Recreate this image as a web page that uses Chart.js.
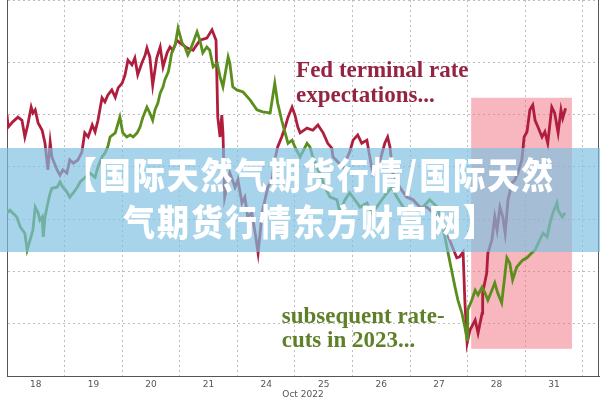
<!DOCTYPE html>
<html>
<head>
<meta charset="utf-8">
<script src="https://cdn.jsdelivr.net/npm/chart.js@4.4.0/dist/chart.umd.min.js"></script>
<style>
  html, body { margin: 0; padding: 0; background: #fff; }
  #wrap { width: 600px; height: 400px; }
</style>
</head>
<body>
<div id="wrap"><canvas id="chart"></canvas></div>
<script>
// Trading days on the axis (Oct 2022)
const dayLabels = ['18', '19', '20', '21', '24', '25', '26', '27', '28', '31'];

// Fed terminal rate expectations (time in trading days, level in grid units)
const fedTime = [
    0.00, 0.02, 0.10, 0.19, 0.26, 0.31, 0.36, 0.42, 0.45, 0.49,
    0.54, 0.61, 0.66, 0.71, 0.75, 0.78, 0.80, 0.87, 0.92, 0.97,
    1.04, 1.09, 1.15, 1.23, 1.30, 1.35, 1.41, 1.48, 1.53, 1.58,
    1.65, 1.70, 1.75, 1.82, 1.88, 1.93, 2.00, 2.05, 2.10, 2.17,
    2.22, 2.27, 2.34, 2.40, 2.43, 2.48, 2.53, 2.60, 2.66, 2.71,
    2.78, 2.83, 2.88, 2.95, 3.00, 3.13, 3.23, 3.35, 3.47, 3.56,
    3.63, 3.66, 3.70, 3.73, 3.75, 3.78, 3.87, 3.96, 4.01, 4.08,
    4.13, 4.18, 4.25, 4.31, 4.36, 4.43, 4.48, 4.53, 4.60, 4.65,
    4.70, 4.77, 4.83, 4.88, 4.95, 5.00, 5.05, 5.09, 5.21, 5.31,
    5.40, 5.49, 5.57, 5.64, 5.66, 5.83, 5.95, 6.01, 6.09, 6.16,
    6.25, 6.30, 6.35, 6.48, 6.56, 6.61, 6.65, 6.70, 6.82, 6.94,
    7.05, 7.17, 7.29, 7.40, 7.52, 7.64, 7.81, 7.86, 7.92, 7.95,
    7.99, 8.04, 8.13, 8.18, 8.25, 8.26, 8.33, 8.35, 8.42, 8.47,
    8.51, 8.56, 8.61, 8.65, 8.70, 8.77, 8.82, 8.87, 8.94, 8.98,
    9.03, 9.08, 9.13, 9.17, 9.22, 9.29, 9.34, 9.39, 9.46, 9.51,
    9.57, 9.62, 9.65, 9.70
];
const fedLevel = [
    4.99, 4.76, 4.86, 4.95, 4.89, 4.57, 4.80, 5.14, 5.03, 5.09,
    4.84, 4.70, 4.45, 3.94, 4.47, 4.19, 4.13, 3.94, 3.84, 3.94,
    3.88, 4.13, 4.07, 4.13, 4.28, 4.65, 4.57, 4.80, 4.67, 4.89,
    5.32, 5.24, 5.37, 5.47, 5.33, 5.51, 5.60, 5.76, 6.04, 5.95,
    6.08, 5.76, 5.98, 6.14, 6.27, 6.10, 5.56, 6.08, 6.29, 5.91,
    6.18, 6.29, 6.23, 6.42, 6.37, 6.27, 6.23, 6.42, 6.46, 6.62,
    6.42, 4.95, 4.57, 4.99, 4.65, 3.42, 3.88, 3.61, 3.75, 3.31,
    3.42, 3.04, 3.12, 2.73, 2.35, 3.12, 3.37, 3.61, 3.75, 4.13,
    4.38, 4.57, 4.76, 4.95, 5.14, 4.99, 4.76, 4.65, 4.74, 4.70,
    4.80, 4.65, 4.45, 4.36, 4.19, 4.00, 4.28, 4.51, 4.61, 4.45,
    4.51, 4.19, 3.88, 4.13, 4.45, 4.57, 4.38, 3.88, 3.61, 3.42,
    3.37, 3.23, 3.23, 3.12, 2.98, 2.73, 2.26, 2.28, 2.37, 1.45,
    0.63, 0.88, 1.07, 0.82, 1.20, 1.59, 1.97, 2.35, 2.60, 3.04,
    2.79, 3.23, 3.04, 2.73, 3.37, 3.69, 3.75, 3.88, 4.13, 4.57,
    4.67, 5.09, 5.18, 4.89, 4.76, 4.57, 4.67, 4.45, 5.14, 5.03,
    4.65, 5.09, 4.93, 5.12
];

// Subsequent rate-cuts priced for 2023
const cutsTime = [
    0.00, 0.05, 0.17, 0.23, 0.31, 0.35, 0.40, 0.45, 0.49, 0.54,
    0.57, 0.61, 0.63, 0.66, 0.71, 0.75, 0.78, 0.87, 0.92, 0.97,
    1.04, 1.09, 1.15, 1.22, 1.27, 1.35, 1.44, 1.53, 1.58, 1.65,
    1.70, 1.75, 1.79, 1.88, 1.96, 2.01, 2.08, 2.14, 2.19, 2.26,
    2.31, 2.36, 2.43, 2.48, 2.53, 2.57, 2.62, 2.66, 2.71, 2.74,
    2.80, 2.83, 2.86, 2.92, 2.97, 3.04, 3.09, 3.14, 3.18, 3.23,
    3.30, 3.35, 3.40, 3.47, 3.52, 3.58, 3.65, 3.70, 3.75, 3.84,
    3.87, 3.92, 3.99, 4.10, 4.22, 4.34, 4.44, 4.57, 4.65, 4.70,
    4.77, 4.83, 4.88, 4.95, 5.00, 5.09, 5.21, 5.26, 5.31, 5.43,
    5.52, 5.61, 5.73, 5.78, 5.87, 5.95, 6.04, 6.13, 6.25, 6.34,
    6.42, 6.51, 6.60, 6.68, 6.77, 6.88, 7.00, 7.12, 7.22, 7.34,
    7.47, 7.57, 7.66, 7.73, 7.78, 7.83, 7.90, 7.95, 7.99, 8.00,
    8.07, 8.13, 8.18, 8.25, 8.30, 8.35, 8.42, 8.47, 8.52, 8.59,
    8.65, 8.68, 8.73, 8.78, 8.85, 8.91, 8.96, 9.03, 9.11, 9.17,
    9.25, 9.31, 9.38, 9.43, 9.48, 9.55, 9.57, 9.64, 9.69
];
const cutsLevel = [
    3.12, 3.17, 3.04, 2.85, 2.73, 2.41, 2.60, 2.79, 3.23, 3.12,
    2.98, 3.04, 2.66, 3.04, 3.31, 3.50, 3.59, 3.61, 3.71, 3.61,
    3.52, 3.42, 3.50, 3.61, 3.71, 3.79, 3.88, 3.80, 4.00, 4.19,
    4.26, 4.38, 4.57, 4.65, 4.95, 4.65, 4.57, 4.61, 4.57, 4.65,
    4.76, 4.95, 5.14, 5.03, 4.89, 5.09, 5.22, 5.41, 5.53, 5.66,
    5.81, 5.98, 6.18, 6.33, 6.65, 6.37, 6.29, 6.14, 6.23, 6.37,
    6.58, 6.42, 6.18, 6.29, 6.23, 5.91, 5.98, 5.72, 5.53, 6.10,
    5.98, 5.53, 5.47, 5.43, 5.28, 5.09, 5.05, 5.03, 5.60, 5.22,
    4.89, 4.65, 4.45, 4.51, 4.38, 4.19, 4.45, 4.38, 4.19, 3.88,
    3.61, 3.42, 3.37, 3.12, 3.37, 3.50, 3.37, 3.23, 3.31, 3.12,
    3.23, 3.37, 3.50, 3.61, 3.42, 3.23, 3.12, 3.12, 3.23, 3.37,
    3.23, 2.85, 2.35, 1.97, 1.70, 1.45, 1.20, 0.94, 0.69, 1.26,
    1.45, 1.64, 1.55, 1.70, 1.59, 1.45, 1.64, 1.78, 1.59, 1.40,
    1.97, 2.26, 2.16, 1.84, 2.08, 2.16, 2.22, 2.26, 2.35, 2.41,
    2.60, 2.73, 2.66, 2.93, 3.12, 3.31, 3.17, 3.04, 3.12
];

// Shaded window after the 27th
const windowFrom = 8.06;
const windowTo = 9.81;
const windowLow = 0.52;
const windowHigh = 5.32;

const bannerLines = ['【国际天然气期货行情/国际天然', '气期货行情东方财富网】'];

function toPoints(times, levels) {
    return times.map((t, i) => ({ x: t, y: levels[i] }));
}

// Pink window behind the lines
const windowPlugin = {
    id: 'cutWindow',
    beforeDatasetsDraw(chart) {
        const { ctx, scales: { x, y } } = chart;
        const left = x.getPixelForValue(windowFrom);
        const right = x.getPixelForValue(windowTo);
        const top = y.getPixelForValue(windowHigh);
        const bottom = y.getPixelForValue(windowLow);
        ctx.save();
        ctx.fillStyle = 'rgba(242, 112, 128, 0.5)';
        ctx.fillRect(left, top, right - left, bottom - top);
        ctx.restore();
    }
};

// Notes, right frame line and the watermark banner
const overlayPlugin = {
    id: 'overlay',
    afterDatasetsDraw(chart) {
        const { ctx, chartArea, scales: { x, y } } = chart;
        ctx.save();
        ctx.strokeStyle = '#555';
        ctx.lineWidth = 1;
        ctx.beginPath();
        ctx.moveTo(chartArea.right - 0.5, chartArea.top);
        ctx.lineTo(chartArea.right - 0.5, chartArea.bottom);
        ctx.stroke();

        ctx.font = 'bold 23px "Liberation Serif"';
        ctx.textBaseline = 'alphabetic';
        ctx.fillStyle = '#952442';
        ctx.fillText('Fed terminal rate', x.getPixelForValue(5.02), y.getPixelForValue(5.72));
        ctx.fillText('expectations...', x.getPixelForValue(5.02), y.getPixelForValue(5.24));
        ctx.fillStyle = '#5f8029';
        ctx.fillText('subsequent rate-', x.getPixelForValue(4.77), y.getPixelForValue(1.01));
        ctx.fillText('cuts in 2023...', x.getPixelForValue(4.77), y.getPixelForValue(0.55));
        ctx.restore();
    },
    afterDraw(chart) {
        const { ctx, width } = chart;
        ctx.save();
        ctx.fillStyle = 'rgba(125, 192, 224, 0.68)';
        ctx.fillRect(0, 148, width, 104);
        ctx.fillStyle = '#ffffff';
        ctx.font = '900 32px "Noto Sans CJK SC"';
        ctx.textAlign = 'center';
        ctx.textBaseline = 'middle';
        if ('letterSpacing' in ctx) ctx.letterSpacing = '2px';
        [175, 222].forEach((cy, i) => {
            ctx.save();
            ctx.translate(width / 2 + 10, cy);
            ctx.scale(1, 1.15);
            ctx.fillText(bannerLines[i], 0, 0);
            ctx.restore();
        });
        ctx.restore();
    }
};

new Chart(document.getElementById('chart'), {
    type: 'line',
    data: {
        datasets: [
            {
                label: 'Rate-cuts 2023',
                data: toPoints(cutsTime, cutsLevel),
                borderColor: '#5b8e1c',
                borderWidth: 2.8,
                pointRadius: 0,
                tension: 0
            },
            {
                label: 'Fed terminal rate',
                data: toPoints(fedTime, fedLevel),
                borderColor: '#b01e3e',
                borderWidth: 2.8,
                pointRadius: 0,
                tension: 0
            }
        ]
    },
    options: {
        responsive: true,
        maintainAspectRatio: false,
        animation: false,
        layout: { padding: { top: 0, right: 1, bottom: 0, left: 0 } },
        plugins: {
            legend: { display: false },
            tooltip: { enabled: false }
        },
        scales: {
            x: {
                type: 'linear',
                min: 0,
                max: 10.28,
                afterBuildTicks: scale => {
                    const ticks = [];
                    for (let i = 0; i <= dayLabels.length; i++) {
                        ticks.push({ value: i });
                        if (i < dayLabels.length) ticks.push({ value: i + 0.5 });
                    }
                    scale.ticks = ticks;
                },
                afterFit: scale => { scale.height = 24; },
                ticks: {
                    autoSkip: false,
                    maxRotation: 0,
                    padding: 3,
                    color: '#555',
                    font: { family: 'DejaVu Sans', size: 9 },
                    callback: value => {
                        const frac = value - Math.floor(value);
                        return Math.abs(frac - 0.5) < 0.01 ? dayLabels[Math.floor(value)] : '';
                    }
                },
                grid: {
                    drawTicks: false,
                    color: ctx => (ctx.tick && Number.isInteger(ctx.tick.value) ? '#bdbdbd' : 'transparent')
                },
                border: { color: '#555', width: 1, dash: [2, 3] },
                title: {
                    display: true,
                    text: 'Oct 2022',
                    color: '#555',
                    padding: 0,
                    font: { family: 'DejaVu Sans', size: 9 }
                }
            },
            y: {
                min: 0,
                max: 7.19,
                afterFit: scale => { scale.width = 7; },
                ticks: { stepSize: 1, display: false },
                grid: { drawTicks: false, color: '#bdbdbd' },
                border: { color: '#555', width: 1, dash: [2, 3] }
            }
        }
    },
    plugins: [windowPlugin, overlayPlugin]
});
</script>
</body>
</html>
